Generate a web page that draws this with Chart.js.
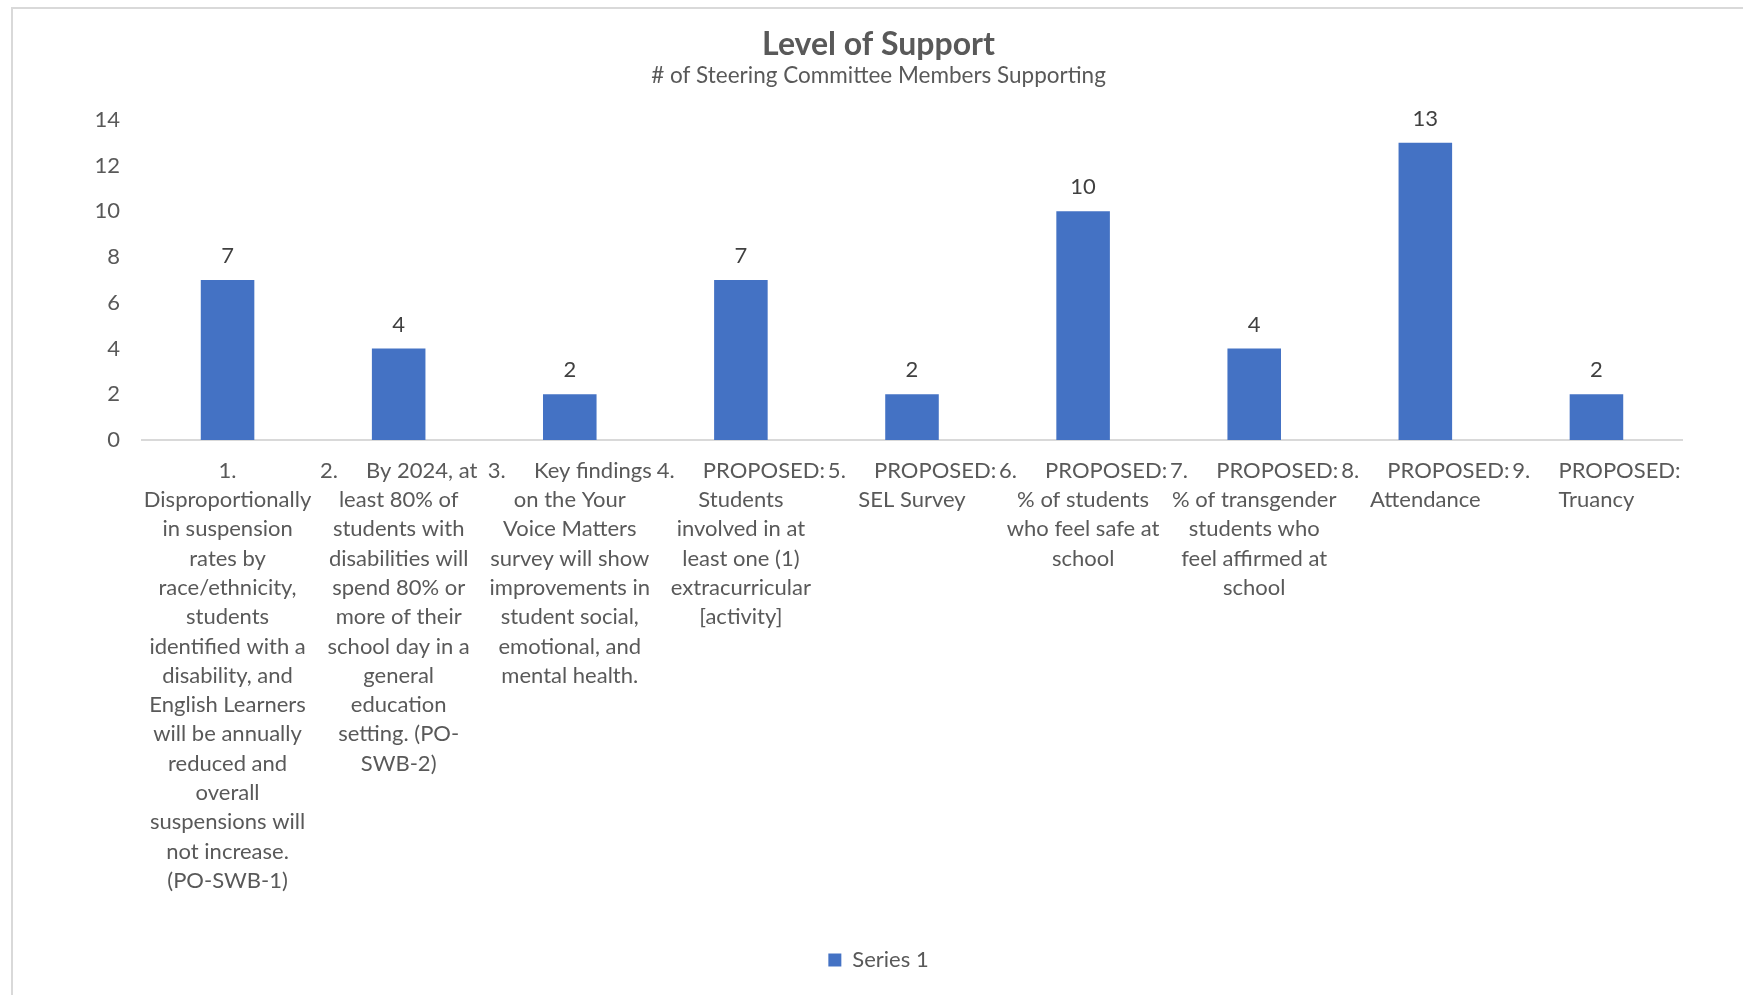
<!DOCTYPE html>
<html>
<head>
<meta charset="utf-8">
<title>Level of Support</title>
<script src="https://cdn.jsdelivr.net/npm/chart.js@4"></script>
<style>
  html, body { margin: 0; padding: 0; background: #fff; }
  #frame {
    position: absolute; left: 11px; top: 7px; width: 1760px; height: 1000px;
    border-left: 2px solid #d9d9d9; border-top: 2px solid #d9d9d9;
  }
  #supportChart { position: absolute; left: 0; top: 0; }
</style>
</head>
<body>
<div id="frame"></div>
<canvas id="supportChart" width="1743" height="995"></canvas>
<script>
// goals, one array of lines per category (line breaks as they wrap under each bar)
const goals = [
  ["1.", "Disproportionally", "in suspension", "rates by", "race/ethnicity,", "students",
   "identified with a", "disability, and", "English Learners", "will be annually",
   "reduced and", "overall", "suspensions will", "not increase.", "(PO-SWB-1)"],
  ["2.     By 2024, at", "least 80% of", "students with", "disabilities will", "spend 80% or",
   "more of their", "school day in a", "general", "education", "setting. (PO-", "SWB-2)"],
  ["3.     Key findings", "on the Your", "Voice Matters", "survey will show",
   "improvements in", "student social,", "emotional, and", "mental health."],
  ["4.     PROPOSED:", "Students", "involved in at", "least one (1)", "extracurricular", "[activity]"],
  ["5.     PROPOSED:", "SEL Survey"],
  ["6.     PROPOSED:", "% of students", "who feel safe at", "school"],
  ["7.     PROPOSED:", "% of transgender", "students who", "feel affirmed at", "school"],
  ["8.     PROPOSED:", "Attendance"],
  ["9.     PROPOSED:", "Truancy"]
];
const supporters = [7, 4, 2, 7, 2, 10, 4, 13, 2];
const yTicks = [0, 2, 4, 6, 8, 10, 12, 14];

const FONT = "Lato, Calibri, 'Noto Sans', sans-serif";
const TEXT = "#595959";
const BLUE = "#4472C4";

// writes each bar's value just above it
const valueLabels = {
  id: "valueLabels",
  afterDatasetsDraw(chart) {
    const ctx = chart.ctx;
    const meta = chart.getDatasetMeta(0);
    ctx.save();
    ctx.font = "22px " + FONT;
    ctx.fillStyle = "#404040";
    ctx.textAlign = "center";
    ctx.textBaseline = "alphabetic";
    meta.data.forEach((bar, i) => {
      ctx.fillText(String(supporters[i]), bar.x, bar.y - 17);
    });
    ctx.restore();
  }
};

const ctx = document.getElementById("supportChart").getContext("2d");

new Chart(ctx, {
  type: "bar",
  data: {
    labels: goals,
    datasets: [{
      label: "Series 1",
      data: supporters,
      backgroundColor: BLUE,
      borderWidth: 0,
      categoryPercentage: 1,
      barPercentage: 0.313
    }]
  },
  options: {
    responsive: false,
    animation: false,
    layout: { padding: { left: 14, right: 0, top: 0, bottom: 14 } },
    plugins: {
      title: {
        display: true,
        text: "Level of Support",
        color: TEXT,
        font: { family: FONT, size: 32, weight: "bold", lineHeight: 1.2 },
        padding: { top: 25, bottom: 0 }
      },
      subtitle: {
        display: true,
        text: "# of Steering Committee Members Supporting",
        color: TEXT,
        font: { family: FONT, size: 22.5, lineHeight: 1.0 },
        padding: { top: 1, bottom: 33 }
      },
      legend: {
        position: "bottom",
        labels: {
          color: TEXT,
          font: { family: FONT, size: 22 },
          boxWidth: 13,
          boxHeight: 13,
          padding: 10
        }
      },
      tooltip: { enabled: false }
    },
    scales: {
      x: {
        grid: { display: false, drawTicks: false },
        border: { display: true, color: "#d9d9d9", width: 2 },
        ticks: {
          color: TEXT,
          font: { family: FONT, size: 22, lineHeight: 1.332 },
          padding: 16,
          autoSkip: false,
          maxRotation: 0,
          minRotation: 0
        },
        afterFit(scale) { scale.height = 499; }
      },
      y: {
        min: 0,
        max: 14,
        grid: { display: false, drawTicks: false },
        border: { display: false },
        afterBuildTicks(scale) { scale.ticks = yTicks.map(v => ({ value: v })); },
        ticks: {
          color: TEXT,
          font: { family: FONT, size: 22 },
          padding: 22
        },
        afterFit(scale) { scale.width = 128; }
      },
      // empty right-hand axis that keeps the plot clear of the right edge
      yRight: {
        position: "right",
        display: true,
        grid: { display: false, drawTicks: false },
        border: { display: false },
        ticks: { display: false },
        afterFit(scale) { scale.width = 61; }
      }
    }
  },
  plugins: [valueLabels]
});
</script>
</body>
</html>
